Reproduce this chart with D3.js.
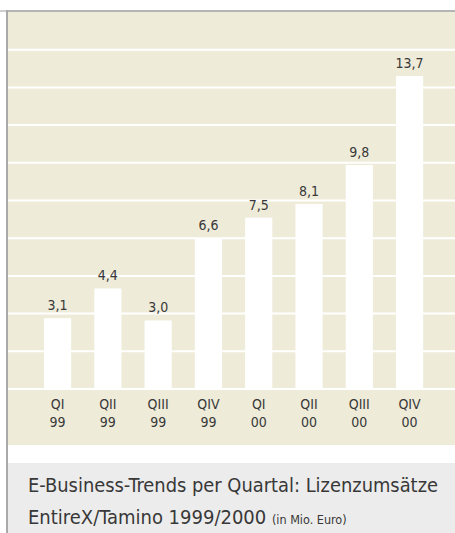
<!DOCTYPE html>
<html lang="de">
<head>
    <meta charset="utf-8">
    <title>E-Business-Trends</title>
    <script type="text/javascript" src="https://d3js.org/d3.v7.min.js"></script>
    <style>
        html, body { margin: 0; padding: 0; background: #fff; }
        svg { display: block; }
        text { font-family: "Liberation Sans Narrow", "Arial Narrow", "DejaVu Sans Condensed", sans-serif; fill: #383838; }
    </style>
</head>
<body>
    <div id="bar-chart"></div>

    <script type="text/javascript">
        // data
        const quarters = ["QI", "QII", "QIII", "QIV", "QI", "QII", "QIII", "QIV"];
        const years = ["99", "99", "99", "99", "00", "00", "00", "00"];
        const values = [3.1, 4.4, 3.0, 6.6, 7.5, 8.1, 9.8, 13.7];
        const valueLabels = ["3,1", "4,4", "3,0", "6,6", "7,5", "8,1", "9,8", "13,7"];
        const captionLine1 = "E-Business-Trends per Quartal: Lizenzumsätze";
        const captionLine2 = "EntireX/Tamino 1999/2000";
        const captionUnit = "(in Mio. Euro)";

        const width = 455;
        const height = 533;
        const panel = {left: 8, top: 12, right: 455, bottom: 445};
        const baseline = 389;
        const yMax = 16.5;
        const gridCount = 10;

        const data = values.map((v, i) => ({key: i, q: quarters[i], yr: years[i], v: v, label: valueLabels[i]}));

        const svg = d3.select("#bar-chart")
            .append("svg")
            .attr("width", width)
            .attr("height", height);

        // frame lines
        svg.append("rect")
            .attr("x", 0).attr("y", 10).attr("width", width).attr("height", 2)
            .attr("fill", "#b4b4b4");
        svg.append("rect")
            .attr("x", 0).attr("y", 10).attr("width", 6).attr("height", 2)
            .attr("fill", "#cfcfcf");
        svg.append("rect")
            .attr("x", 6).attr("y", 10).attr("width", 2).attr("height", height - 10)
            .attr("fill", "#a9a9a9");

        // beige panel
        svg.append("rect")
            .attr("x", panel.left).attr("y", panel.top)
            .attr("width", panel.right - panel.left).attr("height", panel.bottom - panel.top)
            .attr("fill", "#eeebd8");

        const xScale = d3.scaleBand()
            .domain(data.map(d => d.key))
            .range([18.85, 448.3])
            .paddingInner(0.46)
            .paddingOuter(0.5);

        const yScale = d3.scaleLinear()
            .domain([0, yMax])
            .range([baseline, panel.top]);

        // white gridlines
        const gridVals = d3.range(0, gridCount).map(i => yMax * i / gridCount);
        svg.append("g")
            .selectAll("line")
            .data(gridVals)
            .enter()
            .append("line")
                .attr("x1", panel.left)
                .attr("x2", panel.right)
                .attr("y1", d => yScale(d))
                .attr("y2", d => yScale(d))
                .attr("stroke", "#fff")
                .attr("stroke-width", 2);

        // bars
        svg.append("g")
            .selectAll("rect")
            .data(data)
            .enter()
            .append("rect")
                .attr("x", d => xScale(d.key))
                .attr("y", d => yScale(d.v))
                .attr("width", xScale.bandwidth())
                .attr("height", d => yScale(0) - yScale(d.v))
                .attr("fill", "#fff");

        // value labels
        svg.append("g")
            .selectAll("text")
            .data(data)
            .enter()
            .append("text")
                .attr("x", d => xScale(d.key) + xScale.bandwidth() / 2)
                .attr("y", d => yScale(d.v) - 8)
                .attr("text-anchor", "middle")
                .attr("font-size", 14)
                .text(d => d.label);

        // x axis labels
        const xAxis = svg.append("g")
            .selectAll("text")
            .data(data)
            .enter()
            .append("text")
                .attr("x", d => xScale(d.key) + xScale.bandwidth() / 2)
                .attr("y", 409)
                .attr("text-anchor", "middle")
                .attr("font-size", 14);
        xAxis.append("tspan")
            .attr("x", d => xScale(d.key) + xScale.bandwidth() / 2)
            .text(d => d.q);
        xAxis.append("tspan")
            .attr("x", d => xScale(d.key) + xScale.bandwidth() / 2)
            .attr("dy", 18)
            .text(d => d.yr);

        // caption box
        svg.append("rect")
            .attr("x", 8).attr("y", 463)
            .attr("width", width - 8).attr("height", height - 463)
            .attr("fill", "#ececec");

        svg.append("text")
            .attr("x", 28)
            .attr("y", 492)
            .attr("font-size", 20)
            .attr("textLength", 410)
            .attr("lengthAdjust", "spacingAndGlyphs")
            .text(captionLine1);

        const line2 = svg.append("text")
            .attr("x", 28)
            .attr("y", 524)
            .attr("font-size", 20);
        line2.append("tspan").text(captionLine2 + " ");
        line2.append("tspan").attr("font-size", 12.5).text(captionUnit);
    </script>
</body>
</html>
